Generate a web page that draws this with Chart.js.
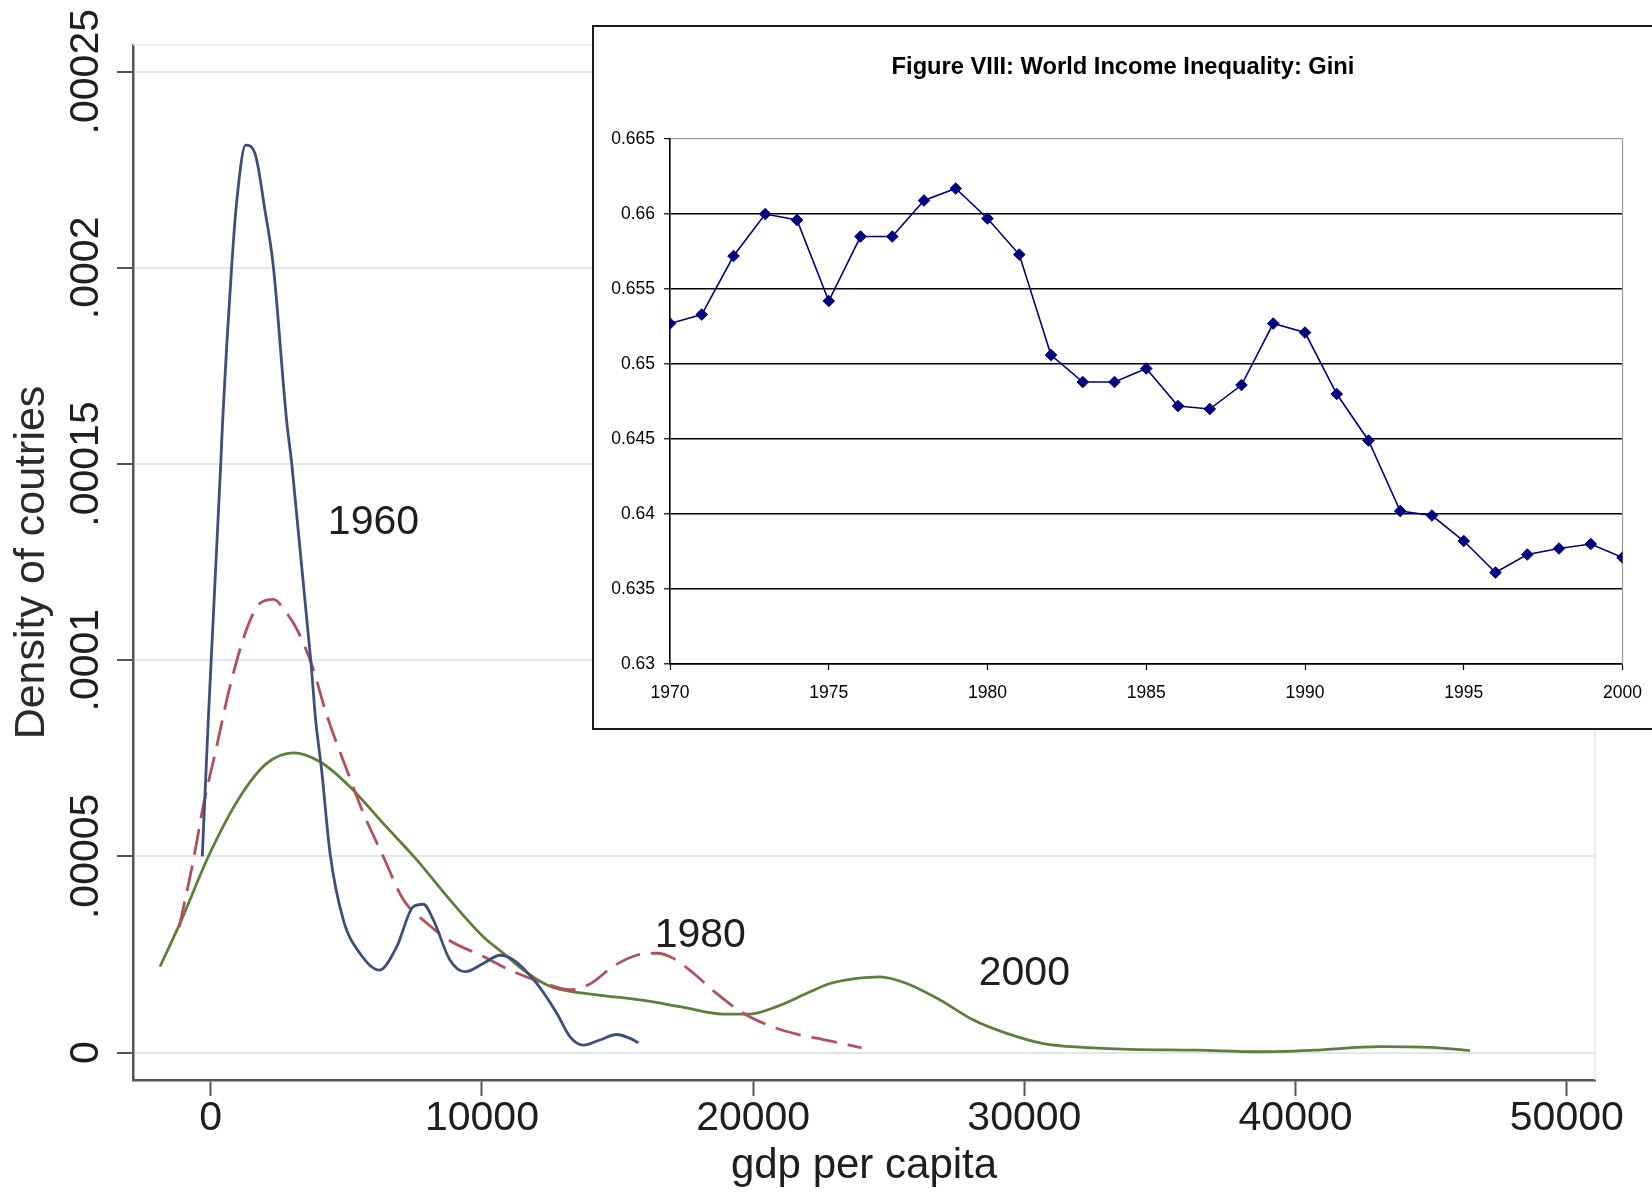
<!DOCTYPE html>
<html>
<head>
<meta charset="utf-8">
<script src="https://cdn.jsdelivr.net/npm/chart.js@4.4.1/dist/chart.umd.min.js"></script>
<style>
  html, body { margin: 0; padding: 0; background: #fff; overflow: hidden; }
  #wrap { position: relative; width: 1652px; height: 1196px; }
  #density { position: absolute; left: 0; top: 0; }
  #inset { position: absolute; left: 592px; top: 25px; width: 1100px; height: 701px;
           border: 2px solid #1a1a1a; background: #fff; }
  #gini { position: absolute; left: 0; top: 0; }
</style>
</head>
<body>
<div id="wrap">
  <canvas id="density" width="1652" height="1196"></canvas>
  <div id="inset"><canvas id="gini" width="1058" height="701"></canvas></div>
</div>
<script>
// ---- main chart: kernel densities of gdp per capita ----
const xTicks = [0, 10000, 20000, 30000, 40000, 50000];
const yTicks = [0, 0.00005, 0.0001, 0.00015, 0.0002, 0.00025];
const yTickLabels = ['0', '.00005', '.0001', '.00015', '.0002', '.00025'];

const gdp1960 = [-310, -90, 370, 440, 770, 960, 1290, 1630, 2000, 2310, 2800, 2990, 3700, 3870, 4090, 4400,
  4890, 5500, 6220, 6860, 7470, 7840, 8210, 8820, 9380, 10050, 10670, 11160, 12020, 12760, 13250, 13740,
  14350, 14970, 15460, 15770];
const dens1960 = [5.0e-5, 8.47e-5, 15.0e-5, 16.1e-5, 20.0e-5, 21.7e-5, 23.13e-5, 22.92e-5, 21.47e-5, 20.03e-5,
  16.1e-5, 15.0e-5, 9.92e-5, 8.47e-5, 7.2e-5, 5.08e-5, 3.38e-5, 2.53e-5, 2.1e-5, 2.7e-5, 3.72e-5, 3.78e-5,
  3.38e-5, 2.36e-5, 2.06e-5, 2.27e-5, 2.48e-5, 2.36e-5, 1.76e-5, 1.0e-5, 0.4e-5, 0.19e-5, 0.32e-5, 0.46e-5,
  0.36e-5, 0.25e-5];

const gdp1980 = [-1160, -640, -270, 220, 700, 1330, 1820, 2310, 2800, 3170, 3720, 4280, 5020, 5630, 6360,
  7100, 7960, 8820, 10050, 11040, 12260, 13250, 13990, 14850, 15710, 16450, 17060, 17800, 18660, 19640,
  20620, 21610, 22590, 24000];
const dens1980 = [3.2e-5, 4.9e-5, 6.3e-5, 7.8e-5, 9.3e-5, 10.8e-5, 11.45e-5, 11.55e-5, 11.2e-5, 10.8e-5,
  9.9e-5, 8.6e-5, 7.2e-5, 6.1e-5, 5.0e-5, 3.9e-5, 3.3e-5, 2.85e-5, 2.45e-5, 2.1e-5, 1.78e-5, 1.6e-5,
  1.75e-5, 2.2e-5, 2.48e-5, 2.53e-5, 2.4e-5, 2.02e-5, 1.5e-5, 1.0e-5, 0.68e-5, 0.47e-5, 0.33e-5, 0.12e-5];

const gdp2000 = [-1870, -1130, -30, 1080, 2065, 3050, 4030, 5140, 6360, 7600, 8820, 10050, 10790, 11530,
  12400, 12880, 14230, 15830, 17300, 18900, 19880, 20870, 21980, 22840, 23820, 24680, 25660, 26890, 28120,
  29350, 30700, 32180, 33900, 36360, 38570, 40660, 43110, 44960, 46430];
const dens2000 = [2.19e-5, 3.3e-5, 5.08e-5, 6.52e-5, 7.37e-5, 7.64e-5, 7.41e-5, 6.77e-5, 5.84e-5, 4.91e-5,
  3.89e-5, 2.95e-5, 2.53e-5, 2.1e-5, 1.72e-5, 1.61e-5, 1.47e-5, 1.34e-5, 1.17e-5, 0.98e-5, 0.98e-5,
  1.17e-5, 1.51e-5, 1.76e-5, 1.89e-5, 1.93e-5, 1.76e-5, 1.34e-5, 0.83e-5, 0.49e-5, 0.23e-5, 0.13e-5,
  0.08e-5, 0.06e-5, 0.02e-5, 0.06e-5, 0.15e-5, 0.13e-5, 0.05e-5];

// year labels placed in data units
const yearNames = ['1960', '1980', '2000'];
const yearGdp = [6000, 18050, 30000];
const yearDens = [0.000135, 0.0000298, 0.0000202];

// ---- inset: world Gini ----
const giniYears = [1970, 1971, 1972, 1973, 1974, 1975, 1976, 1977, 1978, 1979, 1980, 1981, 1982, 1983,
  1984, 1985, 1986, 1987, 1988, 1989, 1990, 1991, 1992, 1993, 1994, 1995, 1996, 1997, 1998, 1999, 2000];
const giniValues = [0.6527, 0.6533, 0.6572, 0.6600, 0.6596, 0.6542, 0.6585, 0.6585, 0.6609, 0.6617,
  0.6597, 0.6573, 0.6506, 0.6488, 0.6488, 0.6497, 0.6472, 0.6470, 0.6486, 0.6527, 0.6521, 0.6480,
  0.6449, 0.6402, 0.6399, 0.6382, 0.6361, 0.6373, 0.6377, 0.6380, 0.6371];
const giniXTicks = [1970, 1975, 1980, 1985, 1990, 1995, 2000];
const giniYTicks = [0.63, 0.635, 0.64, 0.645, 0.65, 0.655, 0.66, 0.665];
const giniYTickLabels = ['0.63', '0.635', '0.64', '0.645', '0.65', '0.655', '0.66', '0.665'];

const SANS = '"Liberation Sans", Arial, sans-serif';

const pts = (xs, ys) => xs.map((x, i) => ({ x: x, y: ys[i] }));

// faint plot-region outline (top and right), Stata style
const plotOutline = {
  id: 'plotOutline',
  beforeDatasetsDraw(chart) {
    const a = chart.chartArea, ctx = chart.ctx;
    ctx.save();
    ctx.strokeStyle = '#e4e7ee';
    ctx.lineWidth = 1.5;
    ctx.beginPath();
    ctx.moveTo(a.left, a.top);
    ctx.lineTo(a.right, a.top);
    ctx.lineTo(a.right, a.bottom);
    ctx.stroke();
    ctx.restore();
  }
};

// vertical y tick labels and the year names on the curves
const densityText = {
  id: 'densityText',
  afterDraw(chart) {
    const ctx = chart.ctx, xs = chart.scales.x, ys = chart.scales.y;
    ctx.save();
    ctx.font = '41px ' + SANS;
    ctx.fillStyle = '#1e1e1e';
    ctx.textAlign = 'center';
    ctx.textBaseline = 'alphabetic';
    ys.ticks.forEach(t => {
      ctx.save();
      ctx.translate(ys.right - 35, ys.getPixelForValue(t.value));
      ctx.rotate(-Math.PI / 2);
      ctx.fillText(t.label, 0, 0);
      ctx.restore();
    });
    ctx.textBaseline = 'middle';
    yearNames.forEach((name, i) => {
      ctx.fillText(name, xs.getPixelForValue(yearGdp[i]), ys.getPixelForValue(yearDens[i]));
    });
    ctx.restore();
  }
};

new Chart(document.getElementById('density'), {
  type: 'line',
  data: {
    datasets: [
      { label: '1960', data: pts(gdp1960, dens1960), borderColor: '#3f4f7b', borderWidth: 2.8 },
      { label: '1980', data: pts(gdp1980, dens1980), borderColor: '#b2515b', borderWidth: 2.8,
        borderDash: [26, 11] },
      { label: '2000', data: pts(gdp2000, dens2000), borderColor: '#5e7e3c', borderWidth: 2.8 }
    ]
  },
  options: {
    responsive: false,
    animation: false,
    events: [],
    layout: { padding: { left: 0, top: 45, right: 57, bottom: 0 } },
    elements: {
      point: { radius: 0 },
      line: { cubicInterpolationMode: 'monotone', fill: false }
    },
    plugins: { legend: { display: false }, tooltip: { enabled: false } },
    scales: {
      x: {
        type: 'linear',
        min: -2865,
        max: 51040,
        afterBuildTicks: s => { s.ticks = xTicks.map(v => ({ value: v })); },
        afterFit: s => { s.height = 116; },
        grid: { drawOnChartArea: false, tickLength: 16, tickColor: '#555', tickWidth: 2 },
        border: { color: '#555', width: 2.5 },
        ticks: { font: { family: SANS, size: 41 }, color: '#1e1e1e', padding: -2, maxRotation: 0,
                 callback: v => String(v) },
        title: { display: true, text: 'gdp per capita', font: { family: SANS, size: 42 }, color: '#1e1e1e',
                 padding: { top: 0, bottom: 4 } }
      },
      y: {
        type: 'linear',
        min: -0.000007,
        max: 0.0002568,
        afterBuildTicks: s => { s.ticks = yTicks.map(v => ({ value: v })); },
        afterFit: s => { s.width = 133; },
        grid: { color: '#e2e6ee', lineWidth: 2, tickLength: 16, tickColor: '#555', tickWidth: 2 },
        border: { color: '#555', width: 2.5 },
        ticks: { display: false, callback: (v, i) => yTickLabels[i] },
        title: { display: true, text: 'Density of coutries', font: { family: SANS, size: 43 }, color: '#2a2a2a',
                 padding: { top: 6, bottom: 0 } }
      }
    }
  },
  plugins: [plotOutline, densityText]
});

// gray right edge of the inset plot area
const insetEdge = {
  id: 'insetEdge',
  beforeDatasetsDraw(chart) {
    const a = chart.chartArea, ctx = chart.ctx;
    ctx.save();
    ctx.strokeStyle = '#9a9a9a';
    ctx.lineWidth = 1.2;
    ctx.beginPath();
    ctx.moveTo(a.right, a.top);
    ctx.lineTo(a.right, a.bottom);
    ctx.stroke();
    ctx.restore();
  }
};

new Chart(document.getElementById('gini'), {
  type: 'line',
  data: {
    datasets: [{
      label: 'Gini',
      data: pts(giniYears, giniValues),
      borderColor: '#000080',
      borderWidth: 1.6,
      tension: 0,
      pointStyle: 'rectRot',
      pointRadius: 5.8,
      pointBackgroundColor: '#000080',
      pointBorderColor: '#000080',
      pointBorderWidth: 1
    }]
  },
  options: {
    responsive: false,
    animation: false,
    events: [],
    layout: { padding: 0 },
    plugins: {
      legend: { display: false },
      tooltip: { enabled: false },
      title: {
        display: true,
        text: 'Figure VIII: World Income Inequality: Gini',
        font: { family: SANS, size: 23.7, weight: 'bold' },
        color: '#000',
        padding: { top: 26, bottom: 57.6 }
      }
    },
    scales: {
      x: {
        type: 'linear',
        min: 1970,
        max: 2000,
        afterBuildTicks: s => { s.ticks = giniXTicks.map(v => ({ value: v })); },
        afterFit: s => { s.height = 64; s.paddingRight = 29.5; },
        grid: { drawOnChartArea: false, tickLength: 6, tickColor: '#000', tickWidth: 1.2 },
        border: { color: '#000', width: 1.6 },
        ticks: { font: { family: SANS, size: 17.5 }, color: '#000', padding: 12.5, maxRotation: 0,
                 callback: v => String(v) }
      },
      y: {
        type: 'linear',
        min: 0.63,
        max: 0.665,
        afterBuildTicks: s => { s.ticks = giniYTicks.map(v => ({ value: v })); },
        afterFit: s => { s.width = 76; },
        grid: {
          color: c => (c.index === giniYTicks.length - 1 ? '#9a9a9a' : '#000'),
          lineWidth: c => (c.index === giniYTicks.length - 1 ? 1.2 : 1.6),
          tickLength: 6, tickColor: '#000', tickWidth: 1.2
        },
        border: { color: '#000', width: 1.6 },
        ticks: { font: { family: SANS, size: 17.5 }, color: '#000', padding: 9,
                 callback: (v, i) => giniYTickLabels[i] }
      }
    }
  },
  plugins: [insetEdge]
});
</script>
</body>
</html>
